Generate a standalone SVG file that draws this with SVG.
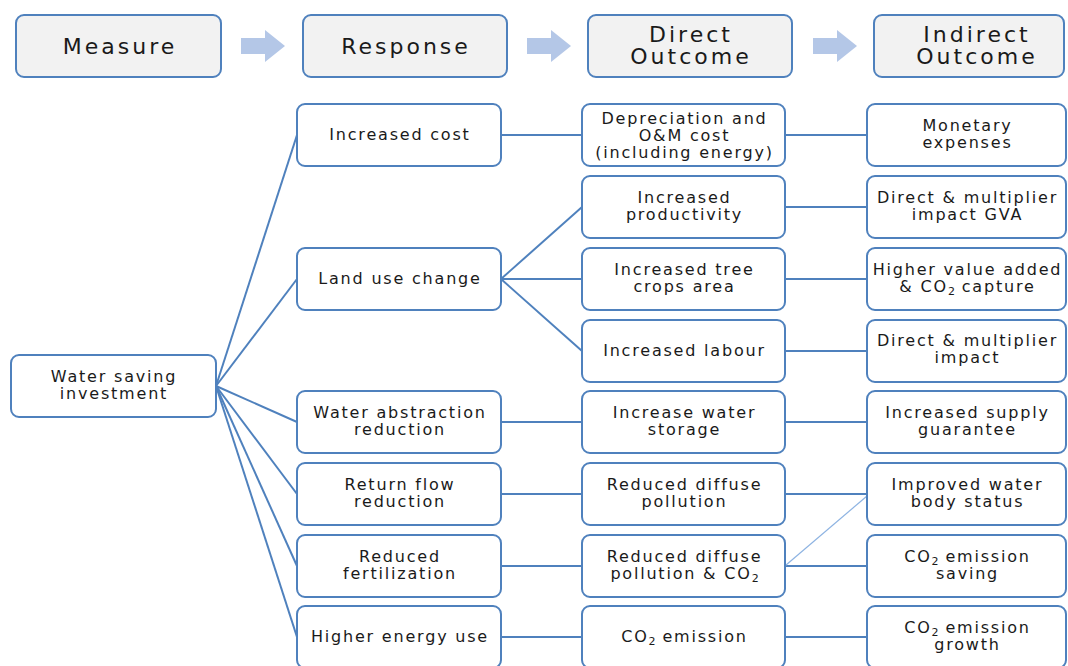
<svg xmlns="http://www.w3.org/2000/svg" width="1068" height="666" viewBox="0 0 1068 666">
<style>
.box{fill:#ffffff;stroke:#4f81bd;stroke-width:2}
.hdr{fill:#f2f2f2;stroke:#4f81bd;stroke-width:2}
.t{font-family:"DejaVu Sans","Liberation Sans",sans-serif;font-size:16px;letter-spacing:1.8px;text-anchor:middle;fill:#1a1a1a}
.h{font-family:"DejaVu Sans","Liberation Sans",sans-serif;font-size:22px;letter-spacing:3px;text-anchor:middle;fill:#1a1a1a}
.c{fill:none;stroke:#4f81bd;stroke-width:2}
.c2{fill:none;stroke:#8db3e2;stroke-width:1.2}
.arr{fill:#b4c7e7}
.s{font-size:11px;letter-spacing:0}
</style>
<rect width="1068" height="666" fill="#ffffff"/>
<g id="header">
  <g id="h-measure"><rect class="hdr" x="16" y="15" width="205" height="62" rx="8"/><text class="h" x="120" y="54">Measure</text></g>
  <g id="h-response"><rect class="hdr" x="303" y="15" width="204" height="62" rx="8"/><text class="h" x="406" y="54">Response</text></g>
  <g id="h-direct"><rect class="hdr" x="588" y="15" width="204" height="62" rx="8"/><text class="h" x="691" y="42">Direct</text><text class="h" x="691" y="64">Outcome</text></g>
  <g id="h-indirect"><rect class="hdr" x="874" y="15" width="190" height="62" rx="8"/><text class="h" x="977" y="42">Indirect</text><text class="h" x="977" y="64">Outcome</text></g>
  <polygon class="arr" points="241,38 265,38 265,30 285,46 265,62 265,54 241,54"/>
  <polygon class="arr" points="527,38 551,38 551,30 571,46 551,62 551,54 527,54"/>
  <polygon class="arr" points="813,38 837,38 837,30 857,46 837,62 837,54 813,54"/>
</g>
<g id="connectors">
  <line class="c" x1="216" y1="386" x2="297" y2="135"/>
  <line class="c" x1="216" y1="386" x2="297" y2="279"/>
  <line class="c" x1="216" y1="386" x2="297" y2="422"/>
  <line class="c" x1="216" y1="386" x2="297" y2="494"/>
  <line class="c" x1="216" y1="386" x2="297" y2="566"/>
  <line class="c" x1="216" y1="386" x2="297" y2="637"/>
  <line class="c" x1="501" y1="135" x2="582" y2="135"/>
  <line class="c" x1="501" y1="279" x2="582" y2="207"/>
  <line class="c" x1="501" y1="279" x2="582" y2="279"/>
  <line class="c" x1="501" y1="279" x2="582" y2="351"/>
  <line class="c" x1="501" y1="422" x2="582" y2="422"/>
  <line class="c" x1="501" y1="494" x2="582" y2="494"/>
  <line class="c" x1="501" y1="566" x2="582" y2="566"/>
  <line class="c" x1="501" y1="637" x2="582" y2="637"/>
  <line class="c" x1="785" y1="135" x2="867" y2="135"/>
  <line class="c" x1="785" y1="207" x2="867" y2="207"/>
  <line class="c" x1="785" y1="279" x2="867" y2="279"/>
  <line class="c" x1="785" y1="351" x2="867" y2="351"/>
  <line class="c" x1="785" y1="422" x2="867" y2="422"/>
  <line class="c" x1="785" y1="494" x2="867" y2="494"/>
  <line class="c" x1="785" y1="566" x2="867" y2="566"/>
  <line class="c" x1="785" y1="637" x2="867" y2="637"/>
  <line class="c2" x1="779" y1="571" x2="867" y2="496"/>
</g>
<g id="n-water-saving"><rect class="box" x="11" y="355" width="205" height="62" rx="8"/><text class="t" x="114" y="382">Water saving</text><text class="t" x="114" y="399">investment</text></g>
<g id="n-increased-cost"><rect class="box" x="297" y="104" width="204" height="62" rx="8"/><text class="t" x="400" y="140">Increased cost</text></g>
<g id="n-land-use"><rect class="box" x="297" y="248" width="204" height="62" rx="8"/><text class="t" x="400" y="284">Land use change</text></g>
<g id="n-water-abstraction"><rect class="box" x="297" y="391" width="204" height="62" rx="8"/><text class="t" x="400" y="418">Water abstraction</text><text class="t" x="400" y="435">reduction</text></g>
<g id="n-return-flow"><rect class="box" x="297" y="463" width="204" height="62" rx="8"/><text class="t" x="400" y="490">Return flow</text><text class="t" x="400" y="507">reduction</text></g>
<g id="n-reduced-fert"><rect class="box" x="297" y="535" width="204" height="62" rx="8"/><text class="t" x="400" y="562">Reduced</text><text class="t" x="400" y="579">fertilization</text></g>
<g id="n-higher-energy"><rect class="box" x="297" y="606" width="204" height="62" rx="8"/><text class="t" x="400" y="642">Higher energy use</text></g>
<g id="n-depreciation"><rect class="box" x="582" y="104" width="203" height="62" rx="8"/><text class="t" x="684.5" y="124">Depreciation and</text><text class="t" x="684.5" y="141">O&amp;M cost</text><text class="t" x="684.5" y="158">(including energy)</text></g>
<g id="n-productivity"><rect class="box" x="582" y="176" width="203" height="62" rx="8"/><text class="t" x="684.5" y="203">Increased</text><text class="t" x="684.5" y="220">productivity</text></g>
<g id="n-tree-crops"><rect class="box" x="582" y="248" width="203" height="62" rx="8"/><text class="t" x="684.5" y="275">Increased tree</text><text class="t" x="684.5" y="292">crops area</text></g>
<g id="n-labour"><rect class="box" x="582" y="320" width="203" height="62" rx="8"/><text class="t" x="684.5" y="356">Increased labour</text></g>
<g id="n-water-storage"><rect class="box" x="582" y="391" width="203" height="62" rx="8"/><text class="t" x="684.5" y="418">Increase water</text><text class="t" x="684.5" y="435">storage</text></g>
<g id="n-diffuse"><rect class="box" x="582" y="463" width="203" height="62" rx="8"/><text class="t" x="684.5" y="490">Reduced diffuse</text><text class="t" x="684.5" y="507">pollution</text></g>
<g id="n-diffuse-co2"><rect class="box" x="582" y="535" width="203" height="62" rx="8"/><text class="t" x="684.5" y="562">Reduced diffuse</text><text class="t" x="684.5" y="579">pollution &amp; CO<tspan class="s" dy="3">2</tspan></text></g>
<g id="n-co2-emission"><rect class="box" x="582" y="606" width="203" height="62" rx="8"/><text class="t" x="684.5" y="642">CO<tspan class="s" dy="3">2</tspan><tspan dy="-3"> emission</tspan></text></g>
<g id="n-monetary"><rect class="box" x="867" y="104" width="199" height="62" rx="8"/><text class="t" x="967.5" y="131">Monetary</text><text class="t" x="967.5" y="148">expenses</text></g>
<g id="n-gva"><rect class="box" x="867" y="176" width="199" height="62" rx="8"/><text class="t" x="967.5" y="203">Direct &amp; multiplier</text><text class="t" x="967.5" y="220">impact GVA</text></g>
<g id="n-value-added"><rect class="box" x="867" y="248" width="199" height="62" rx="8"/><text class="t" x="967.5" y="275">Higher value added</text><text class="t" x="967.5" y="292">&amp; CO<tspan class="s" dy="3">2</tspan><tspan dy="-3"> capture</tspan></text></g>
<g id="n-multiplier"><rect class="box" x="867" y="320" width="199" height="62" rx="8"/><text class="t" x="967.5" y="346">Direct &amp; multiplier</text><text class="t" x="967.5" y="363">impact</text></g>
<g id="n-supply"><rect class="box" x="867" y="391" width="199" height="62" rx="8"/><text class="t" x="967.5" y="418">Increased supply</text><text class="t" x="967.5" y="435">guarantee</text></g>
<g id="n-water-body"><rect class="box" x="867" y="463" width="199" height="62" rx="8"/><text class="t" x="967.5" y="490">Improved water</text><text class="t" x="967.5" y="507">body status</text></g>
<g id="n-co2-saving"><rect class="box" x="867" y="535" width="199" height="62" rx="8"/><text class="t" x="967.5" y="562">CO<tspan class="s" dy="3">2</tspan><tspan dy="-3"> emission</tspan></text><text class="t" x="967.5" y="579">saving</text></g>
<g id="n-co2-growth"><rect class="box" x="867" y="606" width="199" height="62" rx="8"/><text class="t" x="967.5" y="633">CO<tspan class="s" dy="3">2</tspan><tspan dy="-3"> emission</tspan></text><text class="t" x="967.5" y="650">growth</text></g>
</svg>
